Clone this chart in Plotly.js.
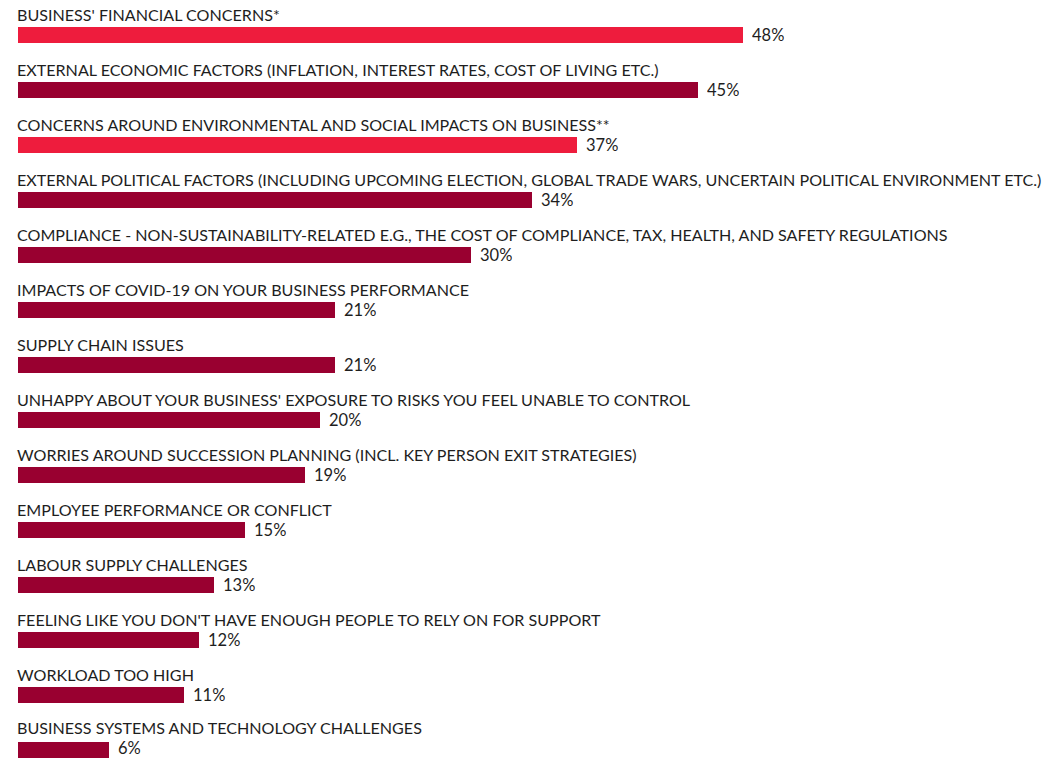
<!DOCTYPE html>
<html>
<head>
<meta charset="utf-8">
<script src="https://cdn.plot.ly/plotly-3.0.1.min.js"></script>
<style>html,body{margin:0;padding:0;background:#fff;}#chart{width:1062px;height:758px;}</style>
</head>
<body>
<div id="chart"></div>
<script>
const categories = [
  "BUSINESS' FINANCIAL CONCERNS*",
  "EXTERNAL ECONOMIC FACTORS (INFLATION, INTEREST RATES, COST OF LIVING ETC.)",
  "CONCERNS AROUND ENVIRONMENTAL AND SOCIAL IMPACTS ON BUSINESS**",
  "EXTERNAL POLITICAL FACTORS (INCLUDING UPCOMING ELECTION, GLOBAL TRADE WARS, UNCERTAIN POLITICAL ENVIRONMENT ETC.)",
  "COMPLIANCE - NON-SUSTAINABILITY-RELATED E.G., THE COST OF COMPLIANCE, TAX, HEALTH, AND SAFETY REGULATIONS",
  "IMPACTS OF COVID-19 ON YOUR BUSINESS PERFORMANCE",
  "SUPPLY CHAIN ISSUES",
  "UNHAPPY ABOUT YOUR BUSINESS' EXPOSURE TO RISKS YOU FEEL UNABLE TO CONTROL",
  "WORRIES AROUND SUCCESSION PLANNING (INCL. KEY PERSON EXIT STRATEGIES)",
  "EMPLOYEE PERFORMANCE OR CONFLICT",
  "LABOUR SUPPLY CHALLENGES",
  "FEELING LIKE YOU DON'T HAVE ENOUGH PEOPLE TO RELY ON FOR SUPPORT",
  "WORKLOAD TOO HIGH",
  "BUSINESS SYSTEMS AND TECHNOLOGY CHALLENGES"
];
const values = [48, 45, 37, 34, 30, 21, 21, 20, 19, 15, 13, 12, 11, 6];
const highlighted = [true, false, true, false, false, false, false, false, false, false, false, false, false, false];

const BRIGHT = '#EE1C3D';
const DARK = '#990030';
const FONT = 'Lato, "Open Sans", sans-serif';
const TXT = '#1e1e1e';

const trace = {
  type: 'bar',
  orientation: 'h',
  x: values,
  y: categories,
  width: 0.29,
  marker: {color: highlighted.map(h => h ? BRIGHT : DARK)},
  hoverinfo: 'none'
};

const annotations = [];
categories.forEach((c, i) => {
  const last = i === categories.length - 1;
  annotations.push({
    x: 0, y: c, xref: 'x', yref: 'y',
    text: c, showarrow: false,
    xanchor: 'left', yanchor: 'middle', yshift: last ? 23 : 21, xshift: -2,
    borderpad: 0,
    font: {family: FONT, size: 16.1, color: TXT}
  });
  annotations.push({
    x: values[i], y: c, xref: 'x', yref: 'y',
    text: values[i] + '%', showarrow: false,
    xanchor: 'left', yanchor: 'middle', xshift: 8, yshift: last ? 2.5 : 0,
    height: 16, valign: 'middle', borderpad: 0,
    font: {family: FONT, size: 16.5, color: TXT}
  });
});

const pxPerUnit = (743 - 18) / 48;
const plotW = 1062 - 18;
const layout = {
  width: 1062, height: 758,
  margin: {l: 18, r: 0, t: 0, b: 0, pad: 0},
  paper_bgcolor: '#fff', plot_bgcolor: '#fff',
  showlegend: false,
  xaxis: {range: [0, plotW / pxPerUnit], visible: false, fixedrange: true},
  yaxis: {type: 'category', range: [(758 - 35) / 55, -35 / 55], visible: false, fixedrange: true},
  annotations: annotations,
  bargap: 0
};

Plotly.newPlot('chart', [trace], layout, {staticPlot: true, displayModeBar: false});
</script>
</body>
</html>
